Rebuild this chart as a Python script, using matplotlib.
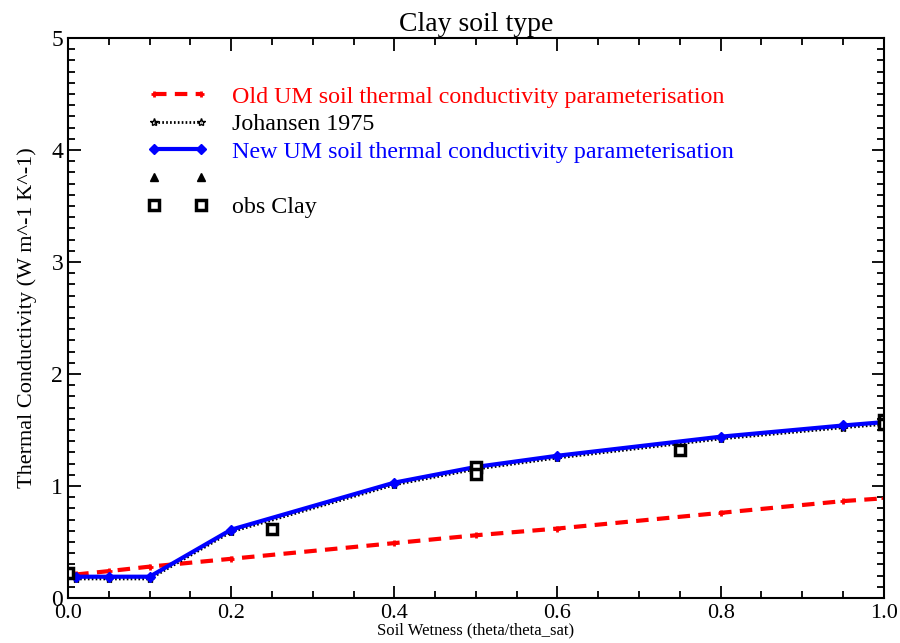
import numpy as np
import matplotlib
matplotlib.use("Agg")
import matplotlib.pyplot as plt
from matplotlib.ticker import MultipleLocator

plt.rcParams["font.family"] = ["Liberation Serif", "DejaVu Serif"]

# ── Data ────────────────────────────────────────────────────────────────────
x_old = [0.01, 0.05, 0.1, 0.2, 0.4, 0.5, 0.6, 0.8, 0.95, 1.0]
k_old = [0.21, 0.24, 0.28, 0.35, 0.49, 0.56, 0.62, 0.76, 0.865, 0.89]

x_joh = [0.01, 0.05, 0.1, 0.2, 0.4, 0.5, 0.6, 0.8, 0.95, 1.0]
k_joh = [0.17, 0.17, 0.17, 0.59, 1.01, 1.15, 1.25, 1.42, 1.52, 1.55]

x_new = [0.01, 0.05, 0.1, 0.2, 0.4, 0.5, 0.6, 0.8, 0.95, 1.0]
k_new = [0.19, 0.19, 0.19, 0.61, 1.03, 1.17, 1.27, 1.44, 1.54, 1.57]

x_obs = [0.0, 0.25, 0.5, 0.5, 0.75, 1.0, 1.0]
k_obs = [0.22, 0.62, 1.17, 1.11, 1.32, 1.59, 1.55]

labels = [
    "Old UM soil thermal conductivity parameterisation",
    "Johansen 1975",
    "New UM soil thermal conductivity parameterisation",
    "",
    "obs Clay",
]
label_colors = ["red", "black", "blue", "black", "black"]

fig = plt.figure(figsize=(9, 6.43), dpi=100)
ax = fig.add_axes([0.0756, 0.070, 0.9064, 0.871])

h_old, = ax.plot(x_old, k_old, color="red", linestyle=(0, (3, 2)), linewidth=3,
                 marker="+", markersize=5, markeredgewidth=2)
h_joh, = ax.plot(x_joh, k_joh, color="black", linestyle=(0, (0.6, 0.8)), linewidth=2,
                 marker="*", markersize=6, markerfacecolor="none", markeredgewidth=1)
h_new, = ax.plot(x_new, k_new, color="blue", linestyle="-", linewidth=3,
                 marker="D", markersize=5)
h_tri, = ax.plot([], [], linestyle="none", marker="^", color="black", markersize=6)
h_obs, = ax.plot(x_obs, k_obs, linestyle="none", marker="s", markersize=7,
                 markerfacecolor="white", markeredgecolor="black", markeredgewidth=2.5)

ax.legend([h_old, h_joh, h_new, h_tri, h_obs], labels, loc="upper left",
          bbox_to_anchor=(0.07, 0.953), frameon=False, numpoints=2,
          handlelength=2.55, handletextpad=1.0, fontsize=17.3, labelspacing=0.24,
          labelcolor=label_colors)

ax.set_xlim(0, 1.0)
ax.set_ylim(0, 5)
ax.xaxis.set_major_locator(MultipleLocator(0.2))
ax.xaxis.set_minor_locator(MultipleLocator(0.05))
ax.yaxis.set_major_locator(MultipleLocator(1))
ax.yaxis.set_minor_locator(MultipleLocator(0.1))
ax.xaxis.set_major_formatter(matplotlib.ticker.FormatStrFormatter("%.1f"))
ax.tick_params(which="both", direction="in", top=True, right=True,
               labelsize=17, width=1.3)
ax.tick_params(axis="x", which="major", pad=4, labelsize=16)
ax.tick_params(which="major", length=9)
ax.tick_params(which="minor", length=5)
for s in ax.spines.values():
    s.set_linewidth(1.5)

ax.set_title("Clay soil type", fontsize=20, pad=5)
ax.set_xlabel("Soil Wetness (theta/theta_sat)", fontsize=12, labelpad=0)
ax.set_ylabel("Thermal Conductivity (W m^-1 K^-1)", fontsize=16, labelpad=10)

fig.savefig("out.png", dpi=100)
